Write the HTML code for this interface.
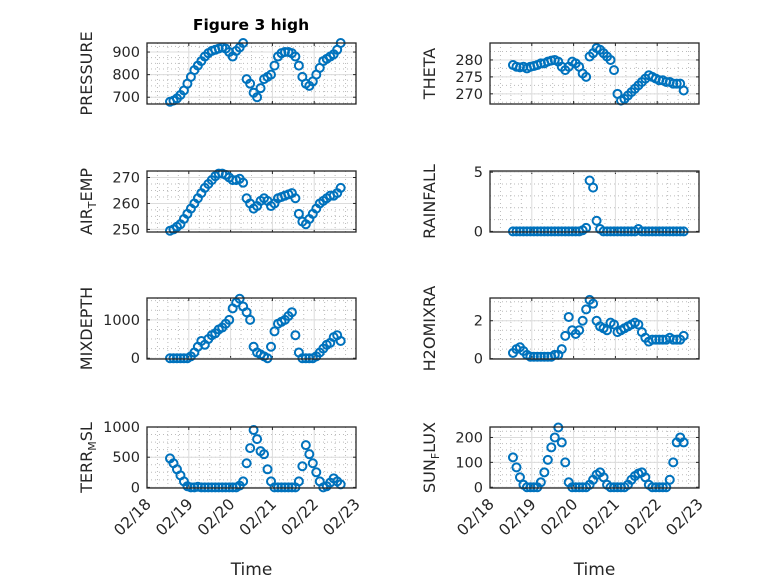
<!DOCTYPE html>
<html><head><meta charset="utf-8"><style>
html,body{margin:0;padding:0;background:#fff;}
svg{display:block;font-family:"DejaVu Sans","Liberation Sans",sans-serif;}
</style></head><body>
<svg id="fig" width="778" height="583" viewBox="0 0 778 583" xmlns="http://www.w3.org/2000/svg">
<rect width="778" height="583" fill="#fff"/>
<text x="251" y="30" font-size="15.5" font-weight="bold" text-anchor="middle" fill="#000">Figure 3 high</text>
</svg>
<script>
const dayTicks = [18,19,20,21,22,23];
const dayLabels = ["02/18","02/19","02/20","02/21","02/22","02/23"];
const t0 = 18.55, dt = 1/12;
const pressure = [680,685,695,710,730,760,790,820,840,860,880,895,905,910,915,920,915,900,880,905,920,940,780,760,720,700,740,780,790,800,840,880,895,900,900,895,880,840,790,760,750,770,800,830,860,870,880,890,910,940];
const theta = [278.5,278,277.8,278,277.5,278,278.2,278.5,279,279,279.5,279.8,280,279.5,278,277,278,279.5,279,278,276,275,281,282,283.5,283,282,281,280,277,270,268,268.5,269.5,270.5,271.5,272.5,273.5,274.5,275.5,275,274.5,274,274,273.5,273.5,273,273,273,271];
const airTemp = [249.5,250,251,252,254,256,258,260,262,264,266,267.5,269,270.5,271.5,271.5,271,270,269,269,269.5,268,262,260,258,259,261,262,261,259,260,262,262.5,263,263.5,264,262,256,253,252,254,256,258,260,261,262,263,263,264,266];
const rainfall = [0,0,0,0,0,0,0,0,0,0,0,0,0,0,0,0,0,0,0,0,0.1,0.3,4.3,3.7,0.9,0.2,0,0,0,0,0,0,0,0,0,0,0.2,0,0,0,0,0,0,0,0,0,0,0,0,0];
const mixDepth = [0,0,0,0,0,0,50,150,300,450,350,500,600,650,750,800,900,1000,1300,1450,1550,1350,1200,1000,300,150,100,50,0,300,700,900,950,1000,1100,1200,600,150,0,0,0,0,50,150,250,350,400,550,600,450];
const h2oMix = [0.3,0.5,0.6,0.4,0.2,0.1,0.1,0.1,0.1,0.1,0.1,0.1,0.2,0.2,0.5,1.2,2.2,1.5,1.3,1.5,2.0,2.6,3.1,2.9,2.0,1.7,1.6,1.5,1.9,1.8,1.4,1.5,1.6,1.7,1.8,1.9,1.8,1.4,1.1,0.9,1.0,1.0,1.0,1.0,1.0,1.1,1.0,1.0,1.0,1.2];
const terrMsl = [480,400,300,200,100,20,0,0,10,0,0,0,0,0,0,0,0,0,0,0,30,100,400,650,950,800,600,550,300,100,0,0,0,0,0,0,0,100,350,700,550,400,250,100,0,20,80,150,100,50];
const sunFlux = [120,80,40,10,0,0,0,0,20,60,110,160,200,240,180,100,20,0,0,0,0,0,10,30,50,60,40,10,0,0,0,0,0,10,30,45,55,60,40,10,0,0,0,0,0,30,100,180,200,180];

const NS="http://www.w3.org/2000/svg";
const svg=document.getElementById('fig');
function el(tag,attrs,parent){const e=document.createElementNS(NS,tag);for(const k in attrs)e.setAttribute(k,attrs[k]);(parent||svg).appendChild(e);return e;}

const panels=[
 {name:'pressure',data:pressure,x0:147,y0:43,ylim:[670,940],ticks:[700,800,900],minor:25,label:['PRESSURE'],xt:false},
 {name:'theta',data:theta,x0:490,y0:43,ylim:[267,285],ticks:[270,275,280],minor:2.5,label:['THETA'],xt:false},
 {name:'air-temp',data:airTemp,x0:147,y0:171,ylim:[249,272.5],ticks:[250,260,270],minor:2.5,label:['AIR','T','EMP'],xt:false},
 {name:'rainfall',data:rainfall,x0:490,y0:171,ylim:[-0.05,5.1],ticks:[0,5],minor:1,label:['RAINFALL'],xt:false},
 {name:'mixdepth',data:mixDepth,x0:147,y0:298,ylim:[-20,1570],ticks:[0,1000],minor:250,label:['MIXDEPTH'],xt:false},
 {name:'h2omixra',data:h2oMix,x0:490,y0:298,ylim:[-0.02,3.2],ticks:[0,2],minor:0.5,label:['H2OMIXRA'],xt:false},
 {name:'terr-msl',data:terrMsl,x0:147,y0:427,ylim:[-10,1000],ticks:[0,500,1000],minor:125,label:['TERR','M','SL'],xt:true},
 {name:'sun-flux',data:sunFlux,x0:490,y0:427,ylim:[-3,242],ticks:[0,100,200],minor:25,label:['SUN','F','LUX'],xt:true}
];
const W=209,H=61;
panels.forEach(p=>{
 const g=el('g',{});
 
 
 const sx=t=>p.x0+(t-18)/5*W;
 const sy=v=>p.y0+H-(v-p.ylim[0])/(p.ylim[1]-p.ylim[0])*H;
 for(let d=18;d<=23;d+=0.25){if(Math.abs(d-Math.round(d))<1e-6)continue;const x=sx(d);el('line',{x1:x,x2:x,y1:p.y0,y2:p.y0+H,stroke:'#bbb','stroke-width':1,'stroke-dasharray':'1,3'},g);}
 for(let v=Math.ceil(p.ylim[0]/p.minor)*p.minor;v<=p.ylim[1];v+=p.minor){const y=sy(v);el('line',{x1:p.x0,x2:p.x0+W,y1:y,y2:y,stroke:'#bbb','stroke-width':1,'stroke-dasharray':'1,3'},g);}
 dayTicks.forEach(d=>{const x=sx(d);el('line',{x1:x,x2:x,y1:p.y0,y2:p.y0+H,stroke:'#dcdcdc','stroke-width':1},g);
   el('line',{x1:x,x2:x,y1:p.y0+H,y2:p.y0+H-3,stroke:'#262626'},g);el('line',{x1:x,x2:x,y1:p.y0,y2:p.y0+3,stroke:'#262626'},g);});
 p.ticks.forEach(v=>{const y=sy(v);el('line',{x1:p.x0,x2:p.x0+W,y1:y,y2:y,stroke:'#dcdcdc'},g);
   el('line',{x1:p.x0,x2:p.x0+3,y1:y,y2:y,stroke:'#262626'},g);el('line',{x1:p.x0+W,x2:p.x0+W-3,y1:y,y2:y,stroke:'#262626'},g);
   const tl=el('text',{x:p.x0-7,y:y+5,'font-size':14.5,'text-anchor':'end',fill:'#262626'},g);tl.textContent=v;
   
   });
 p.data.forEach((v,i)=>{const c=el('circle',{cx:sx(t0+i*dt),cy:sy(v),r:4,fill:'none',stroke:'#0072bd','stroke-width':2},g);
   
   });
 const box=el('rect',{x:p.x0,y:p.y0,width:W,height:H,fill:'none',stroke:'#262626','stroke-width':1.3},g);
 
 
 const lx=p.x0-55, ly=p.y0+H/2;
 const yl=el('text',{x:lx,y:ly,'font-size':16,'text-anchor':'middle',fill:'#262626',transform:`rotate(-90 ${lx} ${ly})`},g);
 
 
 if(p.label.length===1){yl.textContent=p.label[0];}
 else{const a=el('tspan',{},yl);a.textContent=p.label[0];const b=el('tspan',{dy:4,'font-size':11},yl);b.textContent=p.label[1];const c=el('tspan',{dy:-4},yl);c.textContent=p.label[2];}
 if(p.xt){
  dayTicks.forEach((d,i)=>{const x=sx(d)+5,y=p.y0+H+17;const t=el('text',{x:x,y:y,'font-size':15.5,'text-anchor':'end',fill:'#262626',transform:`rotate(-45 ${x} ${y})`},g);t.textContent=dayLabels[i];
   
   });
  const xt=el('text',{x:p.x0+W/2,y:575,'font-size':17,'text-anchor':'middle',fill:'#262626'},g);xt.textContent='Time';
  
  
 }
});
</script>
</body></html>
